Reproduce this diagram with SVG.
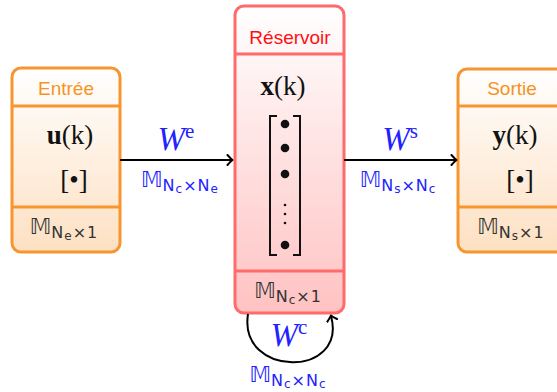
<svg xmlns="http://www.w3.org/2000/svg" width="557" height="392" viewBox="0 0 557 392">
<defs>
<linearGradient id="gO" x1="0" y1="0" x2="0" y2="1">
<stop offset="0" stop-color="#FFFFFF"/>
<stop offset="1" stop-color="#FDE0C2"/>
</linearGradient>
<linearGradient id="gR" x1="0" y1="0" x2="0" y2="1">
<stop offset="0" stop-color="#FFFFFF"/>
<stop offset="1" stop-color="#FFC2C2"/>
</linearGradient>
<marker id="arr" viewBox="-6 -6 8 12" markerWidth="8" markerHeight="12" refX="0" refY="0" orient="auto" markerUnits="userSpaceOnUse">
<path d="M -4.5 -5 Q -1 -1 0.5 0 Q -1 1 -4.5 5" fill="none" stroke="#000" stroke-width="2" stroke-linecap="round" stroke-linejoin="round"/>
</marker>
</defs>
<style>
.boxO{fill:url(#gO);stroke:#F7962F;stroke-width:3}
.boxR{fill:url(#gR);stroke:#FF6B6B;stroke-width:3}
.divO{stroke:#F7962F;stroke-width:3}
.divR{stroke:#FF6B6B;stroke-width:3}
.title{font-family:"Liberation Sans",sans-serif;font-size:19px;text-anchor:middle}
.tO{fill:#F7921E}
.tR{fill:#FF1010}
.math{font-family:"Liberation Serif","DejaVu Serif",serif;font-size:27px;fill:#111;text-anchor:middle}
.bb{font-family:"DejaVu Sans",sans-serif;font-size:21px;text-anchor:middle;fill:#333}
.sub{font-family:"DejaVu Sans",sans-serif;font-size:16px;letter-spacing:1px}
.sm{font-size:12px}
.blue{fill:#2222FF}
.W{font-family:"Liberation Serif",serif;font-style:italic;font-size:33px;fill:#2222FF;text-anchor:middle}
.sup{font-style:normal;font-size:21px}
.conn{fill:none;stroke:#000;stroke-width:2}
</style>
<g id="entree">
<rect class="boxO" x="12" y="68" width="108" height="184" rx="9"/>
<line class="divO" x1="12" y1="106" x2="120" y2="106"/>
<line class="divO" x1="12" y1="207" x2="120" y2="207"/>
<text class="title tO" x="66" y="95">Entrée</text>
<text class="math" x="70" y="144"><tspan font-weight="bold">u</tspan>(k)</text>
<text class="math" x="74" y="189">[•]</text>
<text class="bb" x="64" y="234">𝕄<tspan class="sub" dy="4">N<tspan class="sm" dy="2">e</tspan><tspan dy="-2">×1</tspan></tspan></text>
</g>
<g id="reservoir">
<rect class="boxR" x="235" y="6" width="109" height="307" rx="9"/>
<line class="divR" x1="235" y1="54" x2="344" y2="54"/>
<line class="divR" x1="235" y1="271" x2="344" y2="271"/>
<text class="title tR" x="290" y="44">Réservoir</text>
<text class="math" x="283" y="95"><tspan font-weight="bold">x</tspan>(k)</text>
<path d="M 277 116 L 270 116 L 270 255 L 277 255 M 293 116 L 300 116 L 300 255 L 293 255" fill="none" stroke="#111" stroke-width="2"/>
<circle cx="285" cy="124" r="4.3" fill="#111"/>
<circle cx="285" cy="148" r="4.3" fill="#111"/>
<circle cx="285" cy="174" r="4.3" fill="#111"/>
<circle cx="285" cy="205" r="1.3" fill="#111"/>
<circle cx="285" cy="214" r="1.3" fill="#111"/>
<circle cx="285" cy="223" r="1.3" fill="#111"/>
<circle cx="285" cy="245" r="4.3" fill="#111"/>
<text class="bb" x="288" y="298">𝕄<tspan class="sub" dy="4">N<tspan class="sm" dy="2">c</tspan><tspan dy="-2">×1</tspan></tspan></text>
</g>
<g id="sortie">
<rect class="boxO" x="458" y="69" width="108" height="183" rx="9"/>
<line class="divO" x1="458" y1="106" x2="566" y2="106"/>
<line class="divO" x1="458" y1="207" x2="566" y2="207"/>
<text class="title tO" x="512" y="95">Sortie</text>
<text class="math" x="515" y="144"><tspan font-weight="bold">y</tspan>(k)</text>
<text class="math" x="520" y="189">[•]</text>
<text class="bb" x="511" y="234">𝕄<tspan class="sub" dy="4">N<tspan class="sm" dy="2">s</tspan><tspan dy="-2">×1</tspan></tspan></text>
</g>
<g id="connectors">
<line class="conn" x1="120" y1="160" x2="232" y2="160" marker-end="url(#arr)"/>
<line class="conn" x1="344" y1="160" x2="456" y2="160" marker-end="url(#arr)"/>
<path class="conn" d="M 248 314 C 238 378, 348 378, 331 316" marker-end="url(#arr)"/>
<text class="W" x="176" y="150">W<tspan class="sup" dy="-12">e</tspan></text>
<text class="bb blue" x="180" y="187">𝕄<tspan class="sub" dy="4">N<tspan class="sm" dy="2">c</tspan><tspan dy="-2">×N</tspan><tspan class="sm" dy="2">e</tspan></tspan></text>
<text class="W" x="400" y="150">W<tspan class="sup" dy="-12">s</tspan></text>
<text class="bb blue" x="398" y="187">𝕄<tspan class="sub" dy="4">N<tspan class="sm" dy="2">s</tspan><tspan dy="-2">×N</tspan><tspan class="sm" dy="2">c</tspan></tspan></text>
<text class="W" x="289" y="346">W<tspan class="sup" dy="-12">c</tspan></text>
<text class="bb blue" x="288" y="382">𝕄<tspan class="sub" dy="4">N<tspan class="sm" dy="2">c</tspan><tspan dy="-2">×N</tspan><tspan class="sm" dy="2">c</tspan></tspan></text>
</g>
</svg>
